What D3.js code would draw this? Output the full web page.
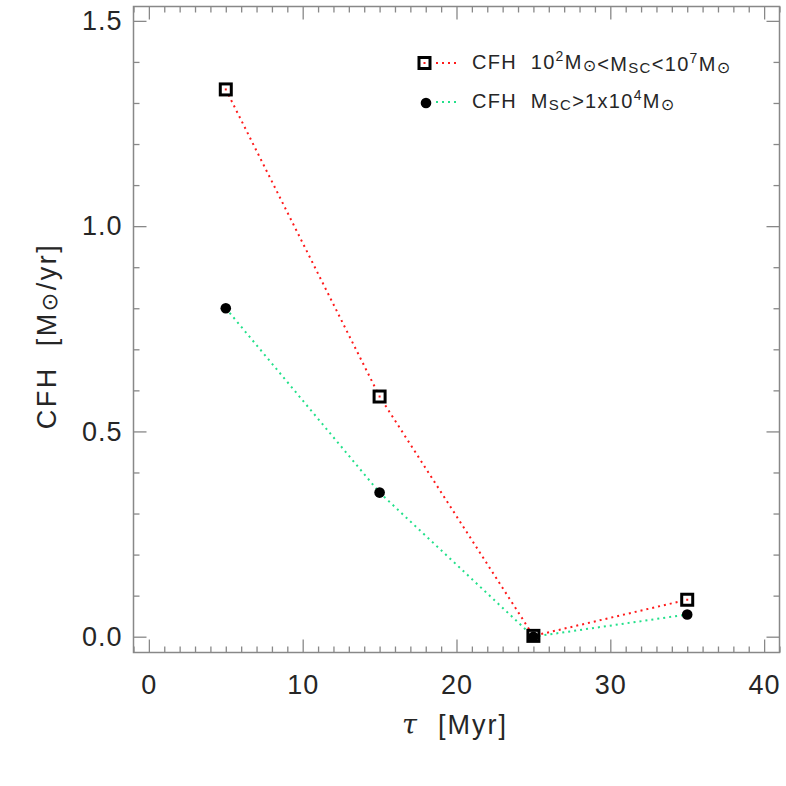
<!DOCTYPE html>
<meta charset="utf-8">
<style>
  body { margin: 0; background: #fff; }
  text { font-family: "Liberation Sans", "DejaVu Sans", sans-serif; fill: #262626; }
</style>
<body>
<script src="https://cdn.jsdelivr.net/npm/d3@7/dist/d3.min.js"></script>
<script>

// data
var tau = [5, 15, 25, 35];
var cfhAll = [1.333, 0.585, 0.002, 0.090];   // 10^2 < M_SC < 10^7
var cfhMassive = [0.800, 0.351, 0.000, 0.054]; // M_SC > 1x10^4
var xTicks = [0, 10, 20, 30, 40];
var yTicks = [0.0, 0.5, 1.0, 1.5];

// plot box
var boxL = 133.5, boxR = 779.5, boxT = 6.5, boxB = 652.5;

var svg = d3.select("body").append("svg")
    .attr("width", 786)
    .attr("height", 786);

var x = d3.scaleLinear().domain([-1, 41]).range([boxL, boxR]);
var y = d3.scaleLinear().domain([-0.0385, 1.535]).range([boxB, boxT]);

var axisColor = "#888";

function styleAxis(g) {
    g.select(".domain").remove();
    g.selectAll("line").attr("stroke", axisColor).attr("stroke-width", 1.3);
}

// frame
svg.append("rect")
    .attr("x", boxL).attr("y", boxT)
    .attr("width", boxR - boxL).attr("height", boxB - boxT)
    .attr("fill", "none").attr("stroke", axisColor).attr("stroke-width", 1.5);

var xMinor = d3.range(-1, 42, 1).filter(function (d) { return d % 10 != 0; });
var yMinor = d3.range(0, 16).map(function (d) { return d / 10; }).filter(function (d, i) { return i % 5 != 0; });

// bottom axis with labels
svg.append("g")
    .attr("transform", "translate(0," + boxB + ")")
    .call(d3.axisBottom(x).tickValues(xTicks).tickSize(-13).tickPadding(22).tickFormat(d3.format("d")))
    .call(styleAxis)
    .selectAll("text").attr("font-size", 27).attr("fill", "#262626").attr("letter-spacing", 1);
svg.append("g")
    .attr("transform", "translate(0," + boxB + ")")
    .call(d3.axisBottom(x).tickValues(xMinor).tickSize(-6).tickFormat(""))
    .call(styleAxis);
// top axis
svg.append("g")
    .attr("transform", "translate(0," + boxT + ")")
    .call(d3.axisTop(x).tickValues(xTicks).tickSize(-13).tickFormat(""))
    .call(styleAxis);
svg.append("g")
    .attr("transform", "translate(0," + boxT + ")")
    .call(d3.axisTop(x).tickValues(xMinor).tickSize(-6).tickFormat(""))
    .call(styleAxis);

// left axis with labels
svg.append("g")
    .attr("transform", "translate(" + boxL + ",0)")
    .call(d3.axisLeft(y).tickValues(yTicks).tickSize(-13).tickPadding(11).tickFormat(d3.format(".1f")))
    .call(styleAxis)
    .selectAll("text").attr("font-size", 27).attr("fill", "#262626").attr("letter-spacing", 1);
svg.append("g")
    .attr("transform", "translate(" + boxL + ",0)")
    .call(d3.axisLeft(y).tickValues(yMinor).tickSize(-6).tickFormat(""))
    .call(styleAxis);
// right axis
svg.append("g")
    .attr("transform", "translate(" + boxR + ",0)")
    .call(d3.axisRight(y).tickValues(yTicks).tickSize(-13).tickFormat(""))
    .call(styleAxis);
svg.append("g")
    .attr("transform", "translate(" + boxR + ",0)")
    .call(d3.axisRight(y).tickValues(yMinor).tickSize(-6).tickFormat(""))
    .call(styleAxis);

// axis titles
var xt = svg.append("text")
    .attr("x", 455).attr("y", 734)
    .attr("text-anchor", "middle")
    .attr("font-size", 27)
    .attr("letter-spacing", 2)
    .style("white-space", "pre");
xt.append("tspan").attr("font-family", "DejaVu Serif").attr("font-style", "italic").text("τ");
xt.append("tspan").text("  [Myr]");

var yt = svg.append("text")
    .attr("transform", "translate(56,336) rotate(-90)")
    .attr("text-anchor", "middle")
    .attr("font-size", 27)
    .attr("letter-spacing", 2.5)
    .style("white-space", "pre");
yt.append("tspan").text("CFH  [M");
yt.append("tspan").attr("font-family", "DejaVu Sans").attr("font-size", 22).attr("dy", 1).text("⊙");
yt.append("tspan").attr("dy", -1).text("/yr]");

// lines
var red = "#ff1a1a", green = "#22e08a";
function series(vals) {
    return tau.map(function (t, i) { return [t, vals[i]]; });
}
var line = d3.line().x(function (d) { return x(d[0]); }).y(function (d) { return y(d[1]); });

svg.append("path")
    .datum(series(cfhAll))
    .attr("d", line)
    .attr("fill", "none").attr("stroke", red)
    .attr("stroke-width", 2).attr("stroke-dasharray", "2,4");
svg.append("path")
    .datum(series(cfhMassive))
    .attr("d", line)
    .attr("fill", "none").attr("stroke", green)
    .attr("stroke-width", 2).attr("stroke-dasharray", "2,4");

// markers
svg.selectAll(".sq")
    .data(series(cfhAll))
    .enter().append("rect")
    .attr("class", "sq")
    .attr("x", function (d) { return x(d[0]) - 5.5; })
    .attr("y", function (d) { return y(d[1]) - 5.5; })
    .attr("width", 11).attr("height", 11)
    .attr("fill", "#fff").attr("stroke", "#000").attr("stroke-width", 3);
svg.selectAll(".sqdot")
    .data(series(cfhAll))
    .enter().append("rect")
    .attr("class", "sqdot")
    .attr("x", function (d) { return x(d[0]) - 1; })
    .attr("y", function (d) { return y(d[1]) - 1; })
    .attr("width", 2).attr("height", 2)
    .attr("fill", red);
svg.selectAll(".dot")
    .data(series(cfhMassive))
    .enter().append("circle")
    .attr("class", "dot")
    .attr("cx", function (d) { return x(d[0]); })
    .attr("cy", function (d) { return y(d[1]); })
    .attr("r", 5.3)
    .attr("fill", "#000");

// legend
var lg = svg.append("g");
lg.append("rect").attr("x", 419).attr("y", 57.5).attr("width", 11).attr("height", 11)
    .attr("fill", "#fff").attr("stroke", "#000").attr("stroke-width", 3);
lg.append("rect").attr("x", 423.5).attr("y", 62).attr("width", 2).attr("height", 2).attr("fill", red);
lg.append("line").attr("x1", 436).attr("x2", 458).attr("y1", 63).attr("y2", 63)
    .attr("stroke", red).attr("stroke-width", 2).attr("stroke-dasharray", "2,4");
lg.append("circle").attr("cx", 426).attr("cy", 103).attr("r", 5.3).attr("fill", "#000");
lg.append("line").attr("x1", 436).attr("x2", 458).attr("y1", 102).attr("y2", 102)
    .attr("stroke", green).attr("stroke-width", 2).attr("stroke-dasharray", "2,4");

function sun(t) {
    t.append("tspan").attr("font-family", "DejaVu Sans").attr("font-size", 16).attr("dy", 2).text("⊙");
    t.append("tspan").attr("dy", -2).text("");
}
var l1 = lg.append("text").attr("x", 472).attr("y", 69).attr("font-size", 20)
    .attr("letter-spacing", 1.3).style("white-space", "pre");
l1.append("tspan").text("CFH  10");
l1.append("tspan").attr("font-size", 14).attr("dy", -8).text("2");
l1.append("tspan").attr("dy", 8).text("M");
sun(l1);
l1.append("tspan").text("<M");
l1.append("tspan").attr("font-size", 15).attr("dy", 2).text("SC");
l1.append("tspan").attr("dy", -2).text("<10");
l1.append("tspan").attr("font-size", 14).attr("dy", -8).text("7");
l1.append("tspan").attr("dy", 8).text("M");
sun(l1);

var l2 = lg.append("text").attr("x", 472).attr("y", 108).attr("font-size", 20)
    .attr("letter-spacing", 1.3).style("white-space", "pre");
l2.append("tspan").text("CFH  M");
l2.append("tspan").attr("font-size", 15).attr("dy", 2).text("SC");
l2.append("tspan").attr("dy", -2).text(">1x10");
l2.append("tspan").attr("font-size", 14).attr("dy", -8).text("4");
l2.append("tspan").attr("dy", 8).text("M");
sun(l2);

</script>
</body>
